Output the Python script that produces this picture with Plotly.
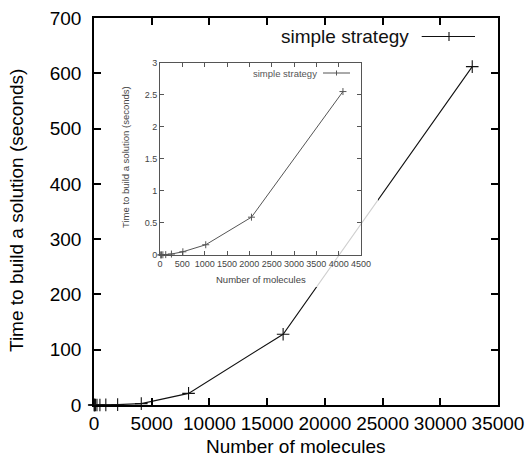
import plotly.graph_objects as go

# Data
molecules = [16, 32, 64, 128, 256, 512, 1024, 2048, 4096, 8192, 16384, 32768]
seconds = [0.001, 0.002, 0.003, 0.006, 0.015, 0.05, 0.16, 0.59, 2.55, 21, 128, 612]
inset_count = 9  # inset shows up to 4096 molecules
series_name = "simple strategy"
x_title = "Number of molecules"
y_title = "Time to build a solution (seconds)"

FONT = "Liberation Sans, Arial, Helvetica, sans-serif"
W, H = 528, 459
L, R, T, B = 94, 30, 18, 54
pw, ph = W - L - R, H - T - B

def px(xp):
    return (xp - L) / pw

def py(yp):
    return (H - B - yp) / ph

fig = go.Figure()

# main curve
fig.add_trace(go.Scatter(
    x=molecules, y=seconds, mode="lines+markers", name=series_name,
    line=dict(color="#111111", width=1.1),
    marker=dict(symbol="cross-thin", size=9, line=dict(color="#111111", width=1.1)),
    showlegend=False, cliponaxis=False,
))

# empty helper subplots: translucent backdrop strips around the inset
for ax in ("2", "3"):
    fig.add_trace(go.Scatter(x=[], y=[], xaxis="x" + ax, yaxis="y" + ax,
                             showlegend=False, hoverinfo="skip"))

# inset curve
fig.add_trace(go.Scatter(
    x=molecules[:inset_count], y=seconds[:inset_count], mode="lines+markers", name=series_name,
    line=dict(color="#555555", width=1),
    marker=dict(symbol="cross-thin", size=5, line=dict(color="#555555", width=1)),
    showlegend=False, xaxis="x4", yaxis="y4", cliponaxis=False,
))

main_axis = dict(
    showgrid=False, zeroline=False, showline=True, linecolor="black", linewidth=1.5,
    mirror="ticks", ticks="inside", ticklen=7, tickwidth=1.5, tickcolor="black",
    tickfont=dict(size=19, color="black", family=FONT), automargin=False,
    tickformat="d", tickangle=0,
)
inset_axis = dict(
    showgrid=False, zeroline=False, showline=True, linecolor="#555555", linewidth=1,
    mirror="ticks", ticks="inside", ticklen=4, tickwidth=1, tickcolor="#555555",
    tickfont=dict(size=9, color="#444444", family=FONT), automargin=False,
    tickangle=0,
)
hidden = dict(visible=False, showgrid=False, zeroline=False, automargin=False, fixedrange=True)

fig.update_layout(
    width=W, height=H,
    margin=dict(l=L, r=R, t=T, b=B),
    paper_bgcolor="white", plot_bgcolor="rgba(255,255,255,0.8)",
    font=dict(family=FONT, color="black"),
    xaxis=dict(main_axis, range=[0, 35000], dtick=5000, domain=[0, 1]),
    yaxis=dict(main_axis, range=[0, 700], dtick=100, domain=[0, 1], ticklabelstandoff=7),
    # right strip of the inset backdrop
    xaxis2=dict(hidden, domain=[px(361), px(378)], anchor="y2"),
    yaxis2=dict(hidden, domain=[py(287), py(45)], anchor="x2"),
    # bottom strip of the inset backdrop
    xaxis3=dict(hidden, domain=[px(110), px(361)], anchor="y3"),
    yaxis3=dict(hidden, domain=[py(287), py(255)], anchor="x3"),
    # inset
    xaxis4=dict(inset_axis, range=[0, 4500], dtick=500, domain=[px(160), px(361)], anchor="y4",
                tickformat="d"),
    yaxis4=dict(inset_axis, range=[0, 3], dtick=0.5, domain=[py(255), py(62.7)], anchor="x4"),
    showlegend=False,
)

# axis titles
fig.add_annotation(x=px(296), y=py(459), xref="paper", yref="paper", text=x_title,
                   showarrow=False, xanchor="center", yanchor="bottom",
                   font=dict(size=19, color="black", family=FONT))
fig.add_annotation(x=px(17), y=py(211), xref="paper", yref="paper", text=y_title,
                   showarrow=False, xanchor="center", yanchor="middle", textangle=-90,
                   font=dict(size=19, color="black", family=FONT))
fig.add_annotation(x=px(260.5), y=py(279), xref="paper", yref="paper", text=x_title,
                   showarrow=False, xanchor="center", yanchor="middle",
                   font=dict(size=9.5, color="#444444", family=FONT))
fig.add_annotation(x=px(125), y=py(157), xref="paper", yref="paper", text=y_title,
                   showarrow=False, xanchor="center", yanchor="middle", textangle=-90,
                   font=dict(size=9.5, color="#444444", family=FONT))

# gnuplot-style legends: text on the left, line sample on the right
def legend(text_right, line_x0, line_x1, mark_x, y, size, color, fsize, half):
    fig.add_annotation(x=px(text_right), y=py(y), xref="paper", yref="paper",
                       text=series_name, showarrow=False, xanchor="right",
                       yanchor="middle", font=dict(size=fsize, color=color, family=FONT))
    fig.add_shape(type="line", xref="paper", yref="paper", x0=px(line_x0), x1=px(line_x1),
                  y0=py(y), y1=py(y), line=dict(color=color, width=size), layer="above")
    fig.add_shape(type="line", xref="paper", yref="paper", x0=px(mark_x), x1=px(mark_x),
                  y0=py(y - half), y1=py(y + half), line=dict(color=color, width=size), layer="above")

legend(411, 421.7, 475, 449, 36.5, 1.1, "#111111", 19, 4.5)
legend(319, 323, 350, 336.5, 73, 1, "#555555", 9.5, 2.5)

fig.write_html("out.html", config={"displayModeBar": False},
               post_script="document.body.style.margin='0';")
